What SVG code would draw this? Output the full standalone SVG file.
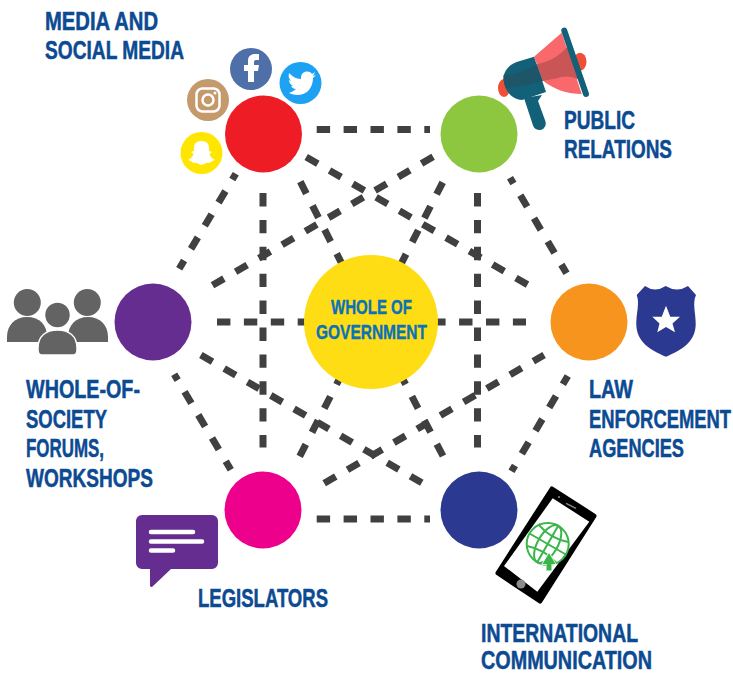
<svg xmlns="http://www.w3.org/2000/svg" width="733" height="674" viewBox="0 0 733 674">
<style>
.c{fill:none;stroke:#404040;stroke-width:7;stroke-dasharray:13.4 13.5}
.s{stroke-dashoffset:6.6}
.t{font-family:"Liberation Sans Narrow","Liberation Sans",sans-serif;font-weight:700;font-size:25px;fill:#0c4a92;stroke:#0c4a92;stroke-width:.5}
.g{font-family:"Liberation Sans Narrow","Liberation Sans",sans-serif;font-weight:700;font-size:21px;fill:#0a72b8;stroke:#0a72b8;stroke-width:.4}
.w{fill:none;stroke:#fff;stroke-linecap:round}
</style>
<rect width="733" height="674" fill="#fff"/>
<g id="connectors">
<path class="c" d="M316.700 129.500H430"/>
<path class="c" d="M316.700 519H430"/>
<path class="c" d="M263 193V447.500"/>
<path class="c" d="M477.500 193V447.500"/>
<path class="c" d="M217 322H526"/>
<path class="c" d="M306.200 157L527.500 284.600"/>
<path class="c" d="M433.100 156.700L212.500 285.300"/>
<path class="c" d="M300.300 181.700L345 270"/>
<path class="c" d="M442.700 182.300L398 270"/>
<path class="c s" d="M235.800 173.700L179.200 268.700"/>
<path class="c s" d="M510 177.700L566.500 273.300"/>
<path class="c s" d="M174.200 374.300L230.800 469.700"/>
<path class="c" d="M200.900 355L421.800 482.700"/>
<path class="c" d="M324.200 483.300L544.100 355"/>
<path class="c" d="M299.700 456.300L345 368"/>
<path class="c" d="M443 456L397 368"/>
<path class="c s" d="M511.500 471.300L567.800 376"/>
</g>
<g id="node-center">
<circle cx="371" cy="322" r="67" fill="#ffdd14"/>
<text class="g" x="371.500" y="313.500" text-anchor="middle" textLength="81" lengthAdjust="spacingAndGlyphs">WHOLE OF</text>
<text class="g" x="371.500" y="338.500" text-anchor="middle" textLength="111" lengthAdjust="spacingAndGlyphs">GOVERNMENT</text>
</g>
<g id="node-media">
<circle cx="263.500" cy="134" r="38.500" fill="#ee1c25"/>
<circle cx="251" cy="69" r="21" fill="#4e6fa8"/>
<path d="M248 82V71H244V65H248V61C248 56 251 54 255 54H259V60H256C254.500 60 254 61 254 62V65H259L258 71H254V82Z" fill="#fff"/>
<circle cx="300.500" cy="83" r="21" fill="#1da1f2"/>
<path d="M289 93C295 96 304 96 309 90C312 86 313 82 313 78L316 75L313 76L315 72L312 74C309 70 302 71 301 77C301 78 301 79 301 79C296 79 292 76 289 73C288 76 289 79 291 81L289 80C289 83 291 85 293 86H291C292 88 294 89 296 89C294 91 291 92 289 93Z" fill="#fff"/>
<circle cx="208" cy="100" r="21" fill="#c49a6c"/>
<rect x="196.500" y="88.500" width="23" height="23" rx="6" fill="none" stroke="#fff" stroke-width="2.500"/>
<circle cx="208" cy="100" r="5.500" fill="none" stroke="#fff" stroke-width="2.500"/>
<circle cx="215" cy="93" r="1.500" fill="#fff"/>
<circle cx="201.500" cy="153" r="21" fill="#ffe600"/>
<path d="M201.500 141C196 141 194 144 194 148V151L191 152L193.500 154C193 157 190 159 188 160C190 161 192 161 193 163C197 162 199 165 201.500 165C204 165 206 162 210 163C211 161 213 161 215 160C213 159 210 157 209.500 154L212 152L209 151V148C209 144 207 141 201.500 141Z" fill="#fff"/>
<text class="t" x="45" y="30" textLength="113" lengthAdjust="spacingAndGlyphs">MEDIA AND</text>
<text class="t" x="45" y="59" textLength="139" lengthAdjust="spacingAndGlyphs">SOCIAL MEDIA</text>
</g>
<g id="node-public">
<circle cx="479" cy="134" r="38.500" fill="#8dc63f"/>
<ellipse cx="580" cy="61.700" rx="6.500" ry="9" fill="#f04e37"/>
<ellipse cx="504" cy="88" rx="6" ry="9" fill="#f04e37"/>
<path d="M534 56.700L561.700 32.700L581.700 94C568 94 555 90 543 80.700Z" fill="#f9686a"/>
<path d="M536.700 64.300C548 62 560 56 567.300 46.700L579.300 80C572 76 566 76 560 77.300C555 79 549 80 543 80.700Z" fill="#c95557"/>
<path d="M524 98L533 125.500A6.500 6.500 0 0 0 545.500 121.500L538 101L542 95Z" fill="#126178"/>
<path d="M534 56.700L546 92L522 100C510 99 503 88 503.500 77C505 68 512 63 520 61Z" fill="#126178"/>
<path d="M503.500 75C515 75 528 70 536.700 64.300L543 81C530 85 518 87 506 88C504 84 503.500 80 503.500 75Z" fill="#1f5568"/>
<path d="M564.300 30.700L586 94" fill="none" stroke="#126178" stroke-width="6" stroke-linecap="round"/>
<text class="t" x="564" y="129" textLength="71" lengthAdjust="spacingAndGlyphs">PUBLIC</text>
<text class="t" x="564" y="158" textLength="108" lengthAdjust="spacingAndGlyphs">RELATIONS</text>
</g>
<g id="node-law">
<circle cx="589" cy="322" r="38.500" fill="#f7941d"/>
<path d="M636.700 295L645 286Q655 293 665.700 286Q677 293 688 286L696 295C692 303 696 314 695.700 325C695 342 682 350 666 356.700C650 350 637 342 636.300 325C636 314 640 303 636.700 295Z" fill="#2b3990"/>
<path d="M666 305.700L670.300 316.700H680L672.500 323.500L675 332.300L666 327L657.300 332.300L659.500 323.500L652.300 316.700H661.700Z" fill="#fff"/>
<text class="t" x="589" y="398" textLength="44" lengthAdjust="spacingAndGlyphs">LAW</text>
<text class="t" transform="translate(589 428) scale(.74 1)" textLength="192" lengthAdjust="spacingAndGlyphs">ENFORCEMENT</text>
<text class="t" x="589" y="457" textLength="95" lengthAdjust="spacingAndGlyphs">AGENCIES</text>
</g>
<g id="node-international">
<circle cx="479" cy="510" r="38.500" fill="#2b3990"/>
<path d="M552 489L594 516L540 601L498 573Z" fill="#000" stroke="#000" stroke-width="5" stroke-linejoin="round"/>
<path d="M552.700 498.300L589.300 521.700L537.300 591.700L504 566Z" fill="#fff"/>
<circle cx="521" cy="584" r="4.500" fill="#8a8a8c"/>
<circle cx="559" cy="497" r="1" fill="#8a8a8c"/>
<path d="M566 503.300L576 508.300" stroke="#8a8a8c" stroke-width="1.500"/>
<g fill="none" stroke="#39b54a" stroke-width="2">
<circle cx="547.700" cy="544" r="21"/>
<g transform="rotate(30 547.700 544)">
<ellipse cx="547.700" cy="544" rx="10" ry="21"/>
<path d="M547.700 523V565M526.700 544H568.700M530.700 532Q547.700 538 564.700 532M530.700 556Q547.700 550 564.700 556"/>
</g>
</g>
<path d="M549 553L555.500 564H551.500V570.500H546.500V564H542.500Z" fill="#39b54a" stroke="#fff" stroke-width="1.500" paint-order="stroke"/>
<text class="t" x="481" y="641.500" textLength="157" lengthAdjust="spacingAndGlyphs">INTERNATIONAL</text>
<text class="t" transform="translate(481 668.500) scale(.8 1)" textLength="213.700" lengthAdjust="spacingAndGlyphs">COMMUNICATION</text>
</g>
<g id="node-legislators">
<circle cx="263" cy="510" r="38.500" fill="#ec008c"/>
<path d="M142 515H212A6 6 0 0 1 218 521V563A6 6 0 0 1 212 569H171L152 587A2 2 0 0 1 150 586V569H142A6 6 0 0 1 136 563V521A6 6 0 0 1 142 515Z" fill="#662d91"/>
<path d="M151 532H193M151 541.500H202M151 550.500H173" class="w" stroke-width="4.500"/>
<text class="t" x="198" y="607" textLength="130" lengthAdjust="spacingAndGlyphs">LEGISLATORS</text>
</g>
<g id="node-society">
<circle cx="153" cy="322" r="38.500" fill="#662d91"/>
<g fill="#636363">
<circle cx="27.300" cy="302.500" r="13.500"/>
<circle cx="87.300" cy="302.500" r="13.500"/>
<path d="M7 342V337C7 325 15 317 27 317C40 317 47 325 47 337V342Z"/>
<path d="M68 342V337C68 325 76 317 88 317C100 317 108 325 108 337V342Z"/>
</g>
<g fill="#636363" stroke="#fff" stroke-width="1.500">
<circle cx="57.500" cy="315" r="13"/>
<path d="M38 350V348C38 336 46 330 57.500 330C69 330 77 336 77 348V350C77 353 76 355 73 355H42C39 355 38 353 38 350Z"/>
</g>
<text class="t" x="26" y="398" textLength="114" lengthAdjust="spacingAndGlyphs">WHOLE-OF-</text>
<text class="t" x="26" y="428" textLength="81" lengthAdjust="spacingAndGlyphs">SOCIETY</text>
<text class="t" x="26" y="457" textLength="78" lengthAdjust="spacingAndGlyphs">FORUMS,</text>
<text class="t" x="26" y="487" textLength="127" lengthAdjust="spacingAndGlyphs">WORKSHOPS</text>
</g>
</svg>
